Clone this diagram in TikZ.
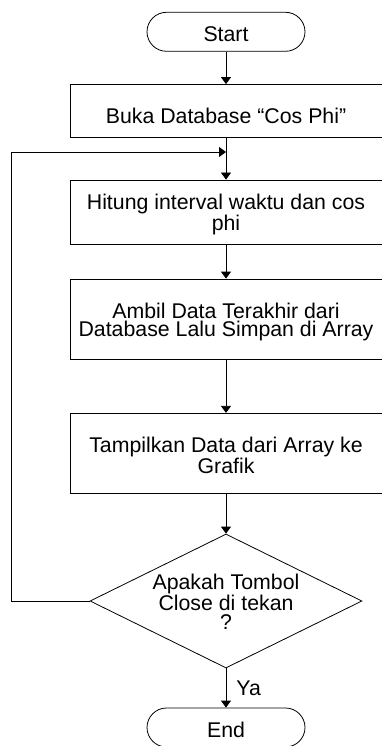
\documentclass[tikz,border=0pt]{standalone}
\usepackage{fontspec}
\setmainfont{Liberation Sans}
\usetikzlibrary{arrows.meta,shapes.geometric}
\tikzset{
  proses/.style={draw, line width=0.8pt, minimum width=312pt, align=center, inner sep=0pt, text height=40pt},
  ujung/.style={draw, line width=0.8pt, rounded corners=19.5pt, minimum width=158pt, minimum height=39pt, inner sep=0pt, text height=20.5pt},
  keputusan/.style={draw, diamond, line width=0.8pt, aspect=2.03, minimum width=272pt, minimum height=134pt, align=center, inner sep=0pt, text height=56.5pt},
  panah/.style={line width=0.8pt, -{Triangle[width=10pt,length=7pt]}}
}

\begin{document}
\begin{tikzpicture}[x=1pt, y=-1pt, font=\fontsize{21.3}{18.5}\selectfont]
  \useasboundingbox (0,0) rectangle (382,746);
  \node[ujung] (start) at (226,31.8) {Start};
  \node[proses, minimum height=53pt, text height=24.5pt] (buka) at (226,111) {Buka Database “Cos Phi”};
  \node[proses, minimum height=64pt, text height=42pt] (hitung) at (226,212) {Hitung interval waktu dan cos\\phi};
  \node[proses, minimum height=80pt] (ambil) at (226,319) {Ambil Data Terakhir dari\\Database Lalu Simpan di Array};
  \node[proses, minimum height=80pt] (tampil) at (226,453.3) {Tampilkan Data dari Array ke\\Grafik};
  \node[keputusan] (tanya) at (226,601) {Apakah Tombol\\Close di tekan\\?};
  \node[ujung] (selesai) at (226,727.5) {End};
  \coordinate (gabung) at (226,152);

  \draw[panah] (start) -- (buka);
  \draw[panah] (buka) -- (hitung);
  \draw[panah] (hitung) -- (ambil);
  \draw[panah] (ambil) -- (tampil);
  \draw[panah] (tampil) -- (tanya);
  \draw[panah] (tanya) -- node[right, inner sep=10pt] {Ya} (selesai);
  \draw[panah] (tanya.west) -- ++(-78,0) |- (gabung);
\end{tikzpicture}
\end{document}
